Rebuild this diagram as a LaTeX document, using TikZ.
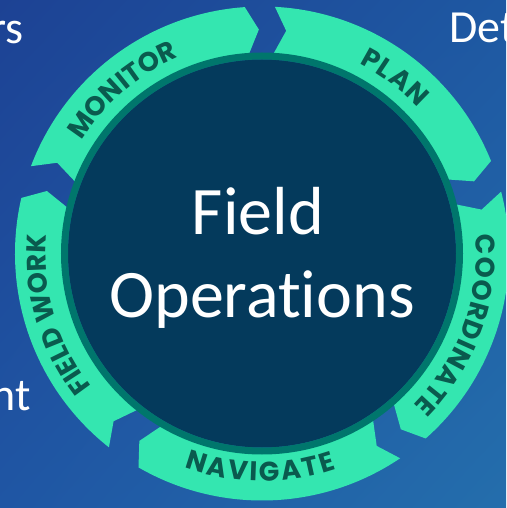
\documentclass[tikz,border=0pt]{standalone}
\usepackage{fontspec}
\setmainfont{Carlito}[Ligatures={NoCommon,NoContextual}]
\newfontfamily\ringfont{Poppins}
\usetikzlibrary{decorations.text,shadings}
\definecolor{bgUL}{RGB}{29,66,148}
\definecolor{bgUR}{RGB}{30,88,162}
\definecolor{bgLL}{RGB}{31,86,164}
\definecolor{bgLR}{RGB}{36,110,172}
\definecolor{ringgreen}{RGB}{52,230,176}
\definecolor{navy}{RGB}{4,58,92}
\definecolor{rim}{RGB}{0,118,108}
\definecolor{ringtxtc}{RGB}{10,90,78}
\newcommand\ringtxt{\ringfont\bfseries\fontsize{27}{27}\selectfont}
\newcommand\segm[2]{%
  \fill[ringgreen] (#1:247) arc[start angle=#1, end angle=#2, radius=247]
    -- ({#2-3.2}:224) -- (#2:198) arc[start angle=#2, end angle=#1, radius=198]
    -- ({#1-3.2}:224) -- cycle;}
\begin{document}
\begin{tikzpicture}[x=1pt,y=1pt,
  sidetext/.style={text=white, inner sep=0pt, font=\fontsize{46}{46}\selectfont},
  bigtext/.style={text=white, inner sep=0pt, font=\fontsize{68}{68}\selectfont},
  ringlabel/.style={decorate, decoration={text along path, text align={fit to path}, text color=ringtxtc}}]
\useasboundingbox (-262,-254.5) rectangle (244,253.5);
\clip (-262,-254.5) rectangle (244,253.5);
\shade[upper left=bgUL, upper right=bgUR, lower left=bgLL, lower right=bgLR] (-262,-254.5) rectangle (244,253.5);
% side texts (cut off by the frame)
\node[sidetext, anchor=base east] (rs) at (-238.5,210) {rs};
\node[sidetext, anchor=base west] (det) at (187,210.8) {Det};
\node[sidetext, anchor=base east] (nt) at (-231,-157.2) {nt};
% ring of arrows
\segm{87}{22}
\segm{14.5}{-48.5}
\segm{-56}{-120}
\segm{-128.3}{-193}
\segm{159.3}{94}
% centre disc
\coordinate (c) at (0,0);
\fill[navy] (c) circle[radius=194];
\draw[rim, line width=7pt] (c) circle[radius=197.5];
\node[bigtext, anchor=base] (field) at (-4,18.5) {Field};
\node[bigtext, anchor=base] (ops) at (0,-63.5) {Operations};
% labels on the ring
\path[ringlabel, decoration={text={|\ringtxt|MONITOR}}] (148:213) arc[start angle=148, end angle=113, radius=213];
\path[ringlabel, decoration={text={|\ringtxt|PLAN}}] (63:213.5) arc[start angle=63, end angle=43, radius=213.5];
\path[ringlabel, decoration={text={|\ringtxt|COORDINATE}}] (5:214) arc[start angle=5, end angle=-45, radius=214];
\path[ringlabel, decoration={text={|\ringtxt|NAVIGATE}}] (-110:227.5) arc[start angle=-110, end angle=-71, radius=227.5];
\path[ringlabel, decoration={text={|\ringtxt|FIELD WORK}}] (218:216.5) arc[start angle=218, end angle=175, radius=216.5];
\end{tikzpicture}
\end{document}
